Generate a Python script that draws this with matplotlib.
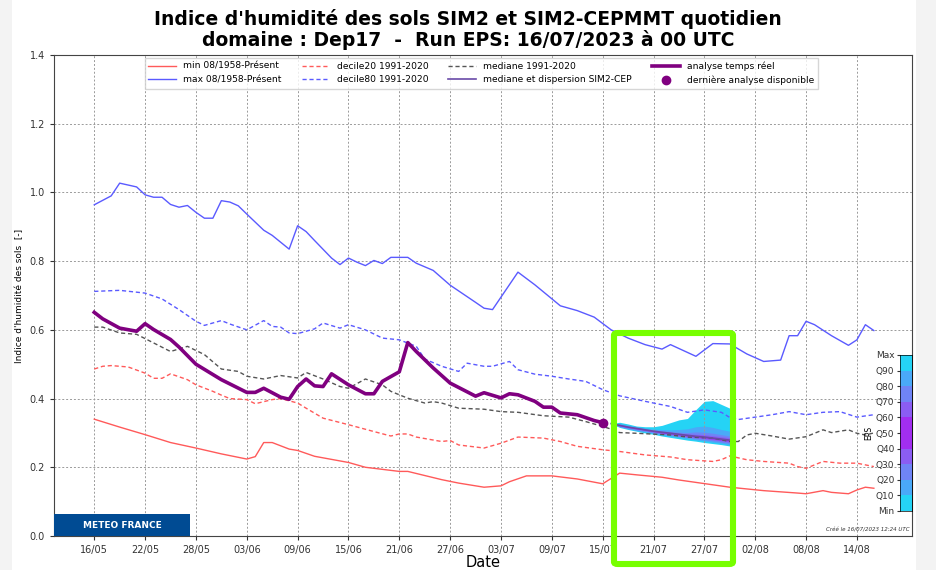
import numpy as np
import matplotlib
matplotlib.use("Agg")
import matplotlib.pyplot as plt
import matplotlib.dates as mdates
from matplotlib.patches import Rectangle, FancyBboxPatch
import datetime as dt

# jours comptes depuis le 16/05/2023
debut = dt.datetime(2023, 5, 16)

# max 08/1958-Present
jmax = [0, 2, 3, 5, 6, 7, 8, 9, 10, 11, 12, 13, 14, 15, 16, 17, 18, 20, 21, 23, 24, 25, 26, 28, 29, 30,
        31, 32, 33, 34, 35, 37, 38, 40, 42, 45, 46, 47, 50, 52, 55, 57, 59, 61, 63, 65, 67, 68, 71, 73,
        75, 77, 79, 81, 82, 83, 84, 85, 87, 89, 90, 91, 92]
vmax = [0.964, 0.990, 1.027, 1.016, 0.993, 0.986, 0.986, 0.965, 0.957, 0.962, 0.942, 0.925, 0.925,
        0.976, 0.972, 0.961, 0.937, 0.890, 0.875, 0.835, 0.903, 0.886, 0.860, 0.809, 0.790, 0.809,
        0.797, 0.787, 0.802, 0.793, 0.811, 0.811, 0.794, 0.773, 0.730, 0.680, 0.663, 0.659, 0.768,
        0.731, 0.670, 0.656, 0.637, 0.600, 0.576, 0.557, 0.544, 0.557, 0.523, 0.560, 0.559, 0.530,
        0.508, 0.512, 0.583, 0.583, 0.625, 0.615, 0.583, 0.555, 0.571, 0.615, 0.598]

# decile80 1991-2020
j80 = [0, 3, 6, 8, 10, 12, 13, 15, 16, 18, 20, 21, 22, 23, 24, 26, 27, 29, 30, 32, 34, 36, 38, 39, 41,
       43, 44, 46, 47, 49, 50, 52, 54, 56, 58, 60, 62, 65, 68, 70, 72, 74, 75, 76, 78, 80, 82, 84, 86,
       88, 90, 92]
v80 = [0.712, 0.715, 0.707, 0.690, 0.659, 0.625, 0.613, 0.627, 0.617, 0.600, 0.627, 0.610, 0.608,
       0.591, 0.589, 0.603, 0.620, 0.605, 0.615, 0.600, 0.576, 0.571, 0.552, 0.515, 0.494, 0.479,
       0.503, 0.494, 0.494, 0.508, 0.484, 0.471, 0.465, 0.457, 0.450, 0.426, 0.408, 0.392, 0.377,
       0.360, 0.367, 0.360, 0.345, 0.339, 0.346, 0.353, 0.362, 0.353, 0.360, 0.362, 0.346, 0.353]

# mediane 1991-2020
jmed = [0, 1, 3, 5, 7, 9, 11, 13, 15, 17, 18, 20, 22, 24, 25, 27, 29, 30, 32, 34, 35, 37, 39, 40, 41,
        43, 46, 48, 50, 53, 56, 58, 60, 61, 62, 64, 68, 70, 73, 75, 76, 77, 78, 80, 82, 84, 86, 87,
        89, 90, 91, 92]
vmed = [0.608, 0.608, 0.591, 0.587, 0.562, 0.537, 0.552, 0.528, 0.486, 0.479, 0.465, 0.457, 0.467,
        0.460, 0.476, 0.457, 0.435, 0.430, 0.457, 0.440, 0.421, 0.401, 0.387, 0.391, 0.387, 0.372,
        0.369, 0.362, 0.360, 0.350, 0.346, 0.333, 0.319, 0.311, 0.301, 0.299, 0.294, 0.288, 0.285,
        0.275, 0.275, 0.294, 0.299, 0.291, 0.282, 0.289, 0.309, 0.301, 0.309, 0.299, 0.294, 0.300]

# decile20 1991-2020
j20 = [0, 1, 2, 4, 6, 7, 8, 9, 11, 12, 14, 15, 16, 18, 19, 21, 22, 24, 25, 27, 30, 33, 35, 36, 37, 38,
       41, 42, 43, 46, 48, 50, 53, 55, 57, 60, 62, 65, 68, 70, 73, 74, 75, 77, 79, 82, 83, 84, 86,
       88, 90, 92]
v20 = [0.486, 0.494, 0.496, 0.492, 0.474, 0.459, 0.459, 0.472, 0.455, 0.440, 0.421, 0.410, 0.400,
       0.397, 0.385, 0.397, 0.400, 0.387, 0.372, 0.343, 0.324, 0.304, 0.291, 0.297, 0.297, 0.288,
       0.275, 0.278, 0.265, 0.256, 0.270, 0.288, 0.285, 0.275, 0.261, 0.251, 0.246, 0.236, 0.230,
       0.222, 0.217, 0.222, 0.233, 0.222, 0.217, 0.212, 0.202, 0.197, 0.217, 0.212, 0.212, 0.202]

# min 08/1958-Present
jmin = [0, 3, 6, 9, 12, 15, 18, 19, 20, 21, 23, 24, 26, 30, 32, 36, 37, 41, 43, 46, 48, 49, 51, 54,
        57, 60, 62, 64, 67, 69, 71, 73, 75, 79, 83, 84, 86, 87, 89, 90, 91, 92]
vmin = [0.340, 0.317, 0.295, 0.272, 0.256, 0.239, 0.224, 0.231, 0.272, 0.272, 0.253, 0.249, 0.232,
        0.214, 0.200, 0.188, 0.188, 0.164, 0.154, 0.142, 0.146, 0.158, 0.175, 0.175, 0.166, 0.152,
        0.183, 0.178, 0.171, 0.163, 0.156, 0.149, 0.142, 0.132, 0.125, 0.123, 0.132, 0.127, 0.123,
        0.134, 0.142, 0.139]

# analyse temps reel
jana = [0, 1, 3, 5, 6, 7, 9, 10, 12, 15, 18, 19, 20, 22, 23, 24, 25, 26, 27, 28, 30, 32, 33, 34, 36,
        37, 38, 40, 42, 45, 46, 48, 49, 50, 52, 53, 54, 55, 57, 59, 60]
vana = [0.651, 0.632, 0.605, 0.596, 0.618, 0.601, 0.572, 0.550, 0.500, 0.455, 0.418, 0.418, 0.430,
        0.404, 0.398, 0.435, 0.457, 0.437, 0.435, 0.472, 0.440, 0.414, 0.414, 0.450, 0.478, 0.563,
        0.537, 0.489, 0.445, 0.407, 0.417, 0.402, 0.414, 0.411, 0.392, 0.375, 0.375, 0.358, 0.353,
        0.336, 0.330]

# prevision EPS SIM2-CEP (16/07 -> 30/07)
jeps = [61, 62, 63, 64, 65, 66, 67, 68, 69, 70, 71, 72, 73, 74, 75]
e_max = [0.327, 0.331, 0.326, 0.320, 0.318, 0.318, 0.322, 0.330, 0.338, 0.342, 0.368, 0.392, 0.394, 0.383, 0.372]
e_q90 = [0.327, 0.327, 0.322, 0.318, 0.314, 0.311, 0.310, 0.309, 0.310, 0.312, 0.318, 0.320, 0.316, 0.310, 0.305]
e_q80 = [0.327, 0.325, 0.320, 0.316, 0.312, 0.308, 0.306, 0.304, 0.302, 0.301, 0.303, 0.302, 0.299, 0.295, 0.291]
e_q70 = [0.327, 0.324, 0.319, 0.315, 0.311, 0.307, 0.304, 0.302, 0.299, 0.297, 0.296, 0.295, 0.292, 0.289, 0.286]
e_q60 = [0.327, 0.323, 0.318, 0.314, 0.310, 0.306, 0.303, 0.300, 0.297, 0.294, 0.292, 0.290, 0.287, 0.284, 0.281]
e_med = [0.327, 0.322, 0.317, 0.313, 0.309, 0.305, 0.302, 0.299, 0.296, 0.293, 0.290, 0.288, 0.285, 0.282, 0.279]
e_q40 = [0.327, 0.321, 0.316, 0.312, 0.308, 0.304, 0.300, 0.297, 0.294, 0.291, 0.288, 0.285, 0.282, 0.279, 0.276]
e_q30 = [0.327, 0.320, 0.315, 0.311, 0.307, 0.303, 0.299, 0.296, 0.292, 0.289, 0.286, 0.283, 0.280, 0.277, 0.273]
e_q20 = [0.327, 0.319, 0.314, 0.309, 0.305, 0.301, 0.297, 0.294, 0.290, 0.287, 0.283, 0.280, 0.277, 0.273, 0.270]
e_q10 = [0.327, 0.318, 0.312, 0.307, 0.303, 0.299, 0.295, 0.291, 0.287, 0.284, 0.280, 0.277, 0.273, 0.270, 0.266]
e_min = [0.327, 0.316, 0.310, 0.305, 0.300, 0.296, 0.291, 0.287, 0.283, 0.279, 0.276, 0.272, 0.269, 0.266, 0.262]

eps_lab = ["Min", "Q10", "Q20", "Q30", "Q40", "Q50", "Q60", "Q70", "Q80", "Q90", "Max"]
eps_col = ["#25d3f5", "#4aa9f8", "#6f84f6", "#8b5df3", "#a22ef0",
           "#a22ef0", "#8b5df3", "#6f84f6", "#4aa9f8", "#25d3f5"]


def dates(j):
    return [debut + dt.timedelta(days=int(d)) for d in j]


fig = plt.figure(figsize=(9.36, 5.70), dpi=100, facecolor="#f3f3f3")
fig.patches.append(Rectangle((12 / 936, 0), 904 / 936, 1, transform=fig.transFigure,
                             facecolor="white", edgecolor="none", zorder=-10))

ax = fig.add_axes([54 / 936, 34 / 570, 858 / 936, 481 / 570])
ax.set_facecolor("white")

ax.plot(dates(jmin), vmin, color="#ff5a5a", lw=1, label="min 08/1958-Présent")
ax.plot(dates(jmax), vmax, color="#5a5aff", lw=1, label="max 08/1958-Présent")
ax.plot(dates(j20), v20, color="#ff5a5a", lw=1, ls=(0, (3, 2)), label="decile20 1991-2020")
ax.plot(dates(j80), v80, color="#5a5aff", lw=1, ls=(0, (3, 2)), label="decile80 1991-2020")
ax.plot(dates(jmed), vmed, color="#555555", lw=1, ls=(0, (3, 2)), label="mediane 1991-2020")

# eventail EPS
de = dates(jeps)
bas = [e_min, e_q10, e_q20, e_q30, e_q40]
haut = [e_max, e_q90, e_q80, e_q70, e_q60]
for i in range(5):
    ax.fill_between(de, bas[i], haut[i], color=eps_col[i], lw=0, zorder=1.5)
ax.plot(de, e_med, color="#6a4aa8", lw=1.2, zorder=2.5, label="mediane et dispersion SIM2-CEP")

ax.plot(dates(jana), vana, color="#800080", lw=2.6, zorder=3, label="analyse temps réel")
ax.plot(dates(jana[-1:]), vana[-1:], "o", color="#800080", ms=6, ls="none", zorder=3,
        label="dernière analyse disponible")

ax.set_ylim(0, 1.4)
ax.set_yticks(np.arange(0, 1.41, 0.2))
ax.set_xlim(debut - dt.timedelta(days=4.75), debut + dt.timedelta(days=96.5))
ax.set_xticks(dates(range(0, 91, 6)))
ax.xaxis.set_major_formatter(mdates.DateFormatter("%d/%m"))
ax.tick_params(labelsize=7, colors="#333333", length=3)
ax.grid(True, color="#9a9a9a", ls=(0, (2, 2)), lw=0.7)
for s in ax.spines.values():
    s.set_color("#444444")
    s.set_linewidth(0.8)

ax.set_xlabel("Date", fontsize=10.5, labelpad=0)
ax.set_ylabel("Indice d'humidité des sols  [-]", fontsize=6.5, labelpad=4)

ax.legend(loc="upper center", ncol=4, fontsize=6.6, frameon=True, fancybox=False,
          edgecolor="#cccccc", bbox_to_anchor=(0.498, 1.0), handlelength=3, columnspacing=2.2,
          borderaxespad=0.3)

fig.suptitle("Indice d'humidité des sols SIM2 et SIM2-CEPMMT quotidien\n"
             "domaine : Dep17  -  Run EPS: 16/07/2023 à 00 UTC",
             fontsize=13.5, fontweight="bold", y=0.985, linespacing=1.1)

# logo texte
ax.add_patch(Rectangle((0, 0), 136 / 858, 22 / 481, transform=ax.transAxes,
                       facecolor="#004b93", edgecolor="none", zorder=5))
ax.text(68 / 858, 11 / 481, "METEO FRANCE", transform=ax.transAxes, ha="center", va="center",
        color="white", fontsize=6.5, fontweight="bold", zorder=6)
ax.text(0.997, 0.008, "Créé le 16/07/2023 12:24 UTC", transform=ax.transAxes, ha="right",
        va="bottom", fontsize=4, style="italic", color="#333333")

# echelle EPS
cax = fig.add_axes([900 / 936, 59 / 570, 12 / 936, 156 / 570])
for i in range(10):
    cax.bar(0.5, 1, bottom=i, width=1, color=eps_col[i], lw=0)
cax.set_xlim(0, 1)
cax.set_ylim(0, 10)
cax.set_xticks([])
cax.set_yticks(range(11))
cax.set_yticklabels(eps_lab)
cax.tick_params(labelsize=6.5, colors="#333333", length=2.5, pad=1.5)
for s in cax.spines.values():
    s.set_linewidth(0.5)
cax.set_ylabel("EPS", fontsize=5.5, labelpad=2)

# cadre vert de mise en evidence
fig.patches.append(FancyBboxPatch((614 / 936, 6 / 570), 119 / 936, 231 / 570,
                                  boxstyle="round,pad=0,rounding_size=0.004",
                                  transform=fig.transFigure, fill=False,
                                  edgecolor="#77ff00", lw=4.4, zorder=20))

fig.savefig("out.png", dpi=100, facecolor=fig.get_facecolor())
